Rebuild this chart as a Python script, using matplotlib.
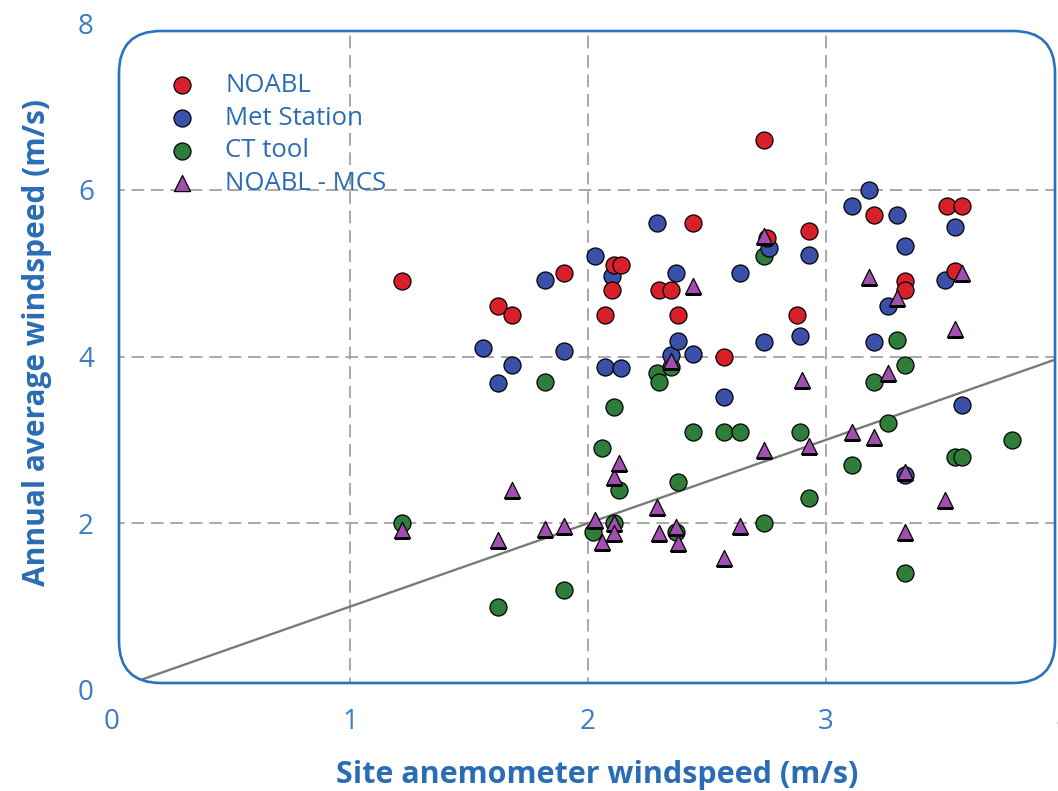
import matplotlib
matplotlib.use("Agg")
import matplotlib.pyplot as plt
from matplotlib.patches import FancyBboxPatch

# site anemometer windspeed (x) vs annual average windspeed (y), m/s
noabl_x = [1.22, 1.62, 1.68, 1.90, 2.07, 2.10, 2.11, 2.14, 2.30, 2.35, 2.38, 2.44,
           2.57, 2.74, 2.75, 2.88, 2.93, 3.20, 3.33, 3.33, 3.51, 3.57, 3.54]
noabl_y = [4.90, 4.60, 4.50, 5.00, 4.50, 4.80, 5.10, 5.10, 4.80, 4.80, 4.50, 5.60,
           4.00, 6.60, 5.42, 4.50, 5.50, 5.70, 4.90, 4.80, 5.80, 5.80, 5.02]

met_x = [1.56, 1.62, 1.68, 1.82, 1.90, 2.03, 2.07, 2.10, 2.14, 2.29, 2.35, 2.37,
         2.38, 2.44, 2.57, 2.64, 2.74, 2.76, 2.89, 2.93, 3.11, 3.18, 3.20, 3.26,
         3.30, 3.33, 3.33, 3.50, 3.54, 3.57]
met_y = [4.10, 3.68, 3.90, 4.92, 4.07, 5.20, 3.88, 4.96, 3.86, 5.60, 4.02, 5.00,
         4.19, 4.03, 3.52, 5.00, 4.17, 5.30, 4.24, 5.22, 5.80, 6.00, 4.17, 4.60,
         5.70, 5.33, 2.58, 4.92, 5.55, 3.42]

ct_x = [1.22, 1.62, 1.82, 1.90, 2.02, 2.06, 2.11, 2.11, 2.13, 2.29, 2.30, 2.35,
        2.37, 2.38, 2.44, 2.57, 2.64, 2.74, 2.74, 2.89, 2.93, 3.11, 3.20, 3.26,
        3.30, 3.33, 3.33, 3.54, 3.57, 3.78]
ct_y = [2.00, 1.00, 3.70, 1.20, 1.90, 2.90, 3.40, 2.00, 2.40, 3.80, 3.70, 3.88,
        1.90, 2.50, 3.10, 3.10, 3.10, 5.20, 2.00, 3.10, 2.30, 2.70, 3.70, 3.20,
        4.20, 3.90, 1.40, 2.80, 2.80, 3.00]

mcs_x = [1.22, 1.62, 1.68, 1.82, 1.90, 2.03, 2.06, 2.11, 2.13, 2.11, 2.11, 2.29,
         2.30, 2.35, 2.37, 2.38, 2.44, 2.57, 2.64, 2.74, 2.74, 2.90, 2.93, 3.11,
         3.18, 3.20, 3.26, 3.30, 3.33, 3.33, 3.50, 3.54, 3.57]
mcs_y = [1.92, 1.80, 2.40, 1.93, 1.97, 2.04, 1.78, 2.56, 2.72, 2.00, 1.88, 2.20,
         1.88, 3.95, 1.96, 1.76, 4.85, 1.58, 1.97, 2.88, 5.45, 3.72, 2.93, 3.10,
         4.95, 3.04, 3.80, 4.70, 2.62, 1.90, 2.28, 4.33, 5.00]

ref_line = [0, 4]  # 1:1 line

x_ticks = [0, 1, 2, 3, 4]
y_ticks = [0, 2, 4, 6, 8]

BLUE_TXT = "#2a6db5"
BLUE_TICK = "#3a7cc6"
FRAME = "#2a72c0"

W, H = 1058, 791
fig = plt.figure(figsize=(W / 100, H / 100), dpi=100)
# axes box in pixels: x=0 at 112, x=4 at 1064; y=0 at 690, y=8 at 23
ax = fig.add_axes([112 / W, (H - 690) / H, 952 / W, 667 / H])
ax.set_xlim(0, 4)
ax.set_ylim(0, 8)
for s in ax.spines.values():
    s.set_visible(False)

frame = FancyBboxPatch((1.19, (H - 683) / 100), 9.36, 6.52,
                       boxstyle="round,pad=0,rounding_size=0.42",
                       transform=fig.dpi_scale_trans, facecolor="none",
                       edgecolor=FRAME, linewidth=1.9, clip_on=False, zorder=6)
ax.add_patch(frame)

ax.set_xticks(x_ticks)
ax.set_yticks(y_ticks)
ax.tick_params(length=0, labelsize=20, labelcolor=BLUE_TICK)
ax.tick_params(axis="x", pad=13)
ax.tick_params(axis="y", pad=13)
for lab in ax.get_xticklabels() + ax.get_yticklabels():
    lab.set_family("Open Sans")
ax.grid(True, color="#a8a8a8", linestyle=(0, (6.5, 3.5)), linewidth=1.4)
for gl in ax.get_xgridlines() + ax.get_ygridlines():
    gl.set_clip_path(frame)

ln, = ax.plot(ref_line, ref_line, color="#7a7a7a", linewidth=1.7, zorder=2)
ln.set_clip_path(frame)

kw = dict(s=150, edgecolors="black", linewidths=0.9, zorder=3)
sc_ct = ax.scatter(ct_x, ct_y, c="#2f7d3a", marker="o", label="CT tool", **kw)
sc_met = ax.scatter(met_x, met_y, c="#3b50a8", marker="o", label="Met Station", **kw)
sc_noabl = ax.scatter(noabl_x, noabl_y, c="#d7202a", marker="o", label="NOABL", **kw)
sc_mcs = ax.scatter(mcs_x, mcs_y, c="#a04fb0", marker="^", label="NOABL - MCS",
                    s=135, edgecolors="black", linewidths=0.9, zorder=4)
for sc in (sc_ct, sc_met, sc_noabl, sc_mcs):
    sc.set_clip_path(frame)

leg = ax.legend(handles=[sc_noabl, sc_met, sc_ct, sc_mcs], loc="upper left",
                bbox_to_anchor=(170 / W, 1 - 73 / H), bbox_transform=fig.transFigure,
                frameon=False, borderpad=0, borderaxespad=0, handlelength=0.95,
                handletextpad=1.2, labelspacing=0.3, scatterpoints=1,
                prop={"family": "Open Sans", "size": 18.5}, labelcolor=BLUE_TXT)

fig.text(597 / W, 1 - 775 / H, "Site anemometer windspeed (m/s)", ha="center",
         va="center", fontsize=22, fontweight="bold", color=BLUE_TXT, family="Open Sans")
fig.text(37 / W, 1 - 343 / H, "Annual average windspeed (m/s)", ha="center",
         va="center", rotation=90, fontsize=21.5, fontweight="bold", color=BLUE_TXT,
         family="Open Sans")

fig.savefig("out.png", dpi=100)
